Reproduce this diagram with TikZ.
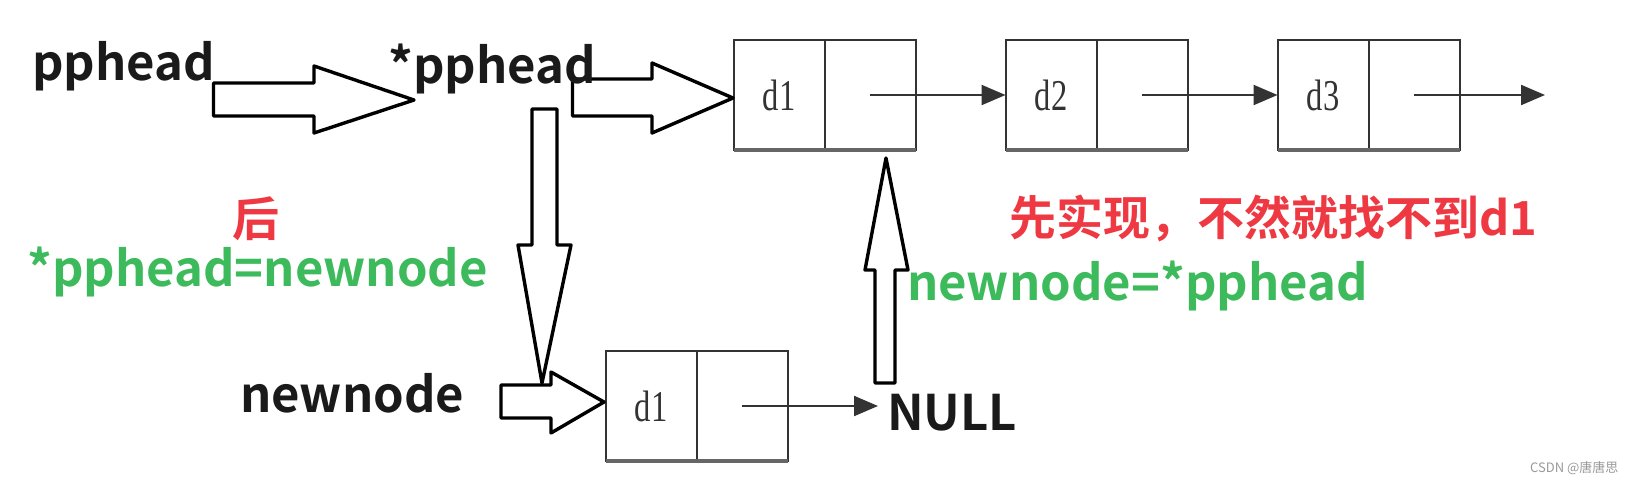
\documentclass[tikz,border=0pt]{standalone}
\usepackage{fontspec}
\usepackage{graphicx}
\setmainfont{Noto Sans CJK SC}[BoldFont={Noto Sans CJK SC Bold}]
\newfontfamily\cjk{Noto Sans CJK SC}[BoldFont={Noto Sans CJK SC Bold}]
\newfontfamily\cellfont{Liberation Serif}
\usetikzlibrary{arrows.meta,positioning}

\definecolor{textgreen}{RGB}{61,187,92}
\definecolor{textred}{RGB}{238,56,66}
\definecolor{textblack}{RGB}{26,26,26}

\newcommand{\celltext}[1]{\scalebox{0.74}[1]{#1}}

\begin{document}
\begin{tikzpicture}[
  x=1pt, y=-1pt,
  word/.style={
    inner sep=0pt,
    anchor=base west,
    font=\fontsize{49}{56}\selectfont\cjk\bfseries,
    text=textblack
  },
  greenword/.style={word, text=textgreen},
  redword/.style={word, text=textred, font=\fontsize{47}{56}\selectfont\cjk\bfseries},
  cell/.style={
    draw=black!80,
    line width=2pt,
    minimum width=91pt,
    minimum height=110pt,
    inner sep=0pt,
    outer sep=0pt,
    font=\fontsize{44}{48}\selectfont\cellfont,
    text=black!80
  },
  cellbase/.style={draw=black!60, line width=3.5pt},
  link/.style={-{Triangle[length=24pt, width=20pt]}, line width=2.2pt, draw=black!80},
  fat/.style={draw=black, line width=3.4pt, line join=round, fill=white}
]
  \useasboundingbox (0,0) rectangle (1644,483);

  % list nodes
  \node[cell] (d1) at (779,95) {\celltext{d1}};
  \node[cell, right=0pt of d1] (d1n) {};
  \node[cell] (d2) at (1051,95) {\celltext{d2}};
  \node[cell, right=0pt of d2] (d2n) {};
  \node[cell] (d3) at (1323,95) {\celltext{d3}};
  \node[cell, right=0pt of d3] (d3n) {};
  \node[cell] (new) at (651,406) {\celltext{d1}};
  \node[cell, right=0pt of new] (newn) {};
  \coordinate (tail) at (1545,95);

  \draw[cellbase] (d1.south west) -- (d1n.south east);
  \draw[cellbase] (d2.south west) -- (d2n.south east);
  \draw[cellbase] (d3.south west) -- (d3n.south east);
  \draw[cellbase] (new.south west) -- (newn.south east);

  % hollow arrows
  \draw[fat] (213.5,83) -- (314,83) -- (314,66) -- (414,100) -- (314,133) -- (314,116) -- (213.5,116) -- cycle;
  \draw[fat] (572.5,79) -- (652,79) -- (652,63) -- (733,98) -- (652,133) -- (652,116) -- (572.5,116) -- cycle;
  \draw[fat] (532,109) -- (557,109) -- (557,245) -- (571,245) -- (542,383) -- (518,245) -- (532,245) -- cycle;
  \draw[fat] (501,385) -- (551,385) -- (551,372) -- (604,402) -- (551,433) -- (551,418) -- (501,418) -- cycle;
  \draw[fat] (875,383) -- (895,383) -- (895,270) -- (908,270) -- (886,158) -- (865,270) -- (875,270) -- cycle;

  % labels
  \node[word] (pp) at (32,80) {pphead};
  \node[word] (star) at (388,83) {*pphead};
  \node[word] (newname) at (240,412) {newnode};
  \node[word] (null) at (887,430) {NULL};
  \node[redword] (after) at (232,236) {后};
  \node[greenword] (setpp) at (27,286) {*pphead=newnode};
  \node[greenword] (setnew) at (907,300) {newnode=*pphead};
  \node[redword] (first) at (1009,235) {先实现，不然就找不到d1};
  \node[anchor=base west, inner sep=0pt, font=\fontsize{13}{15}\selectfont\cjk, text=black!40] (mark) at (1530,472) {CSDN @唐唐思};

  % links
  \draw[link] (d1n.center) -- (d2.west);
  \draw[link] (d2n.center) -- (d3.west);
  \draw[link] (d3n.center) -- (tail);
  \draw[link, shorten >=9pt] (newn.center) -- (newn.center -| null.west);
\end{tikzpicture}
\end{document}
